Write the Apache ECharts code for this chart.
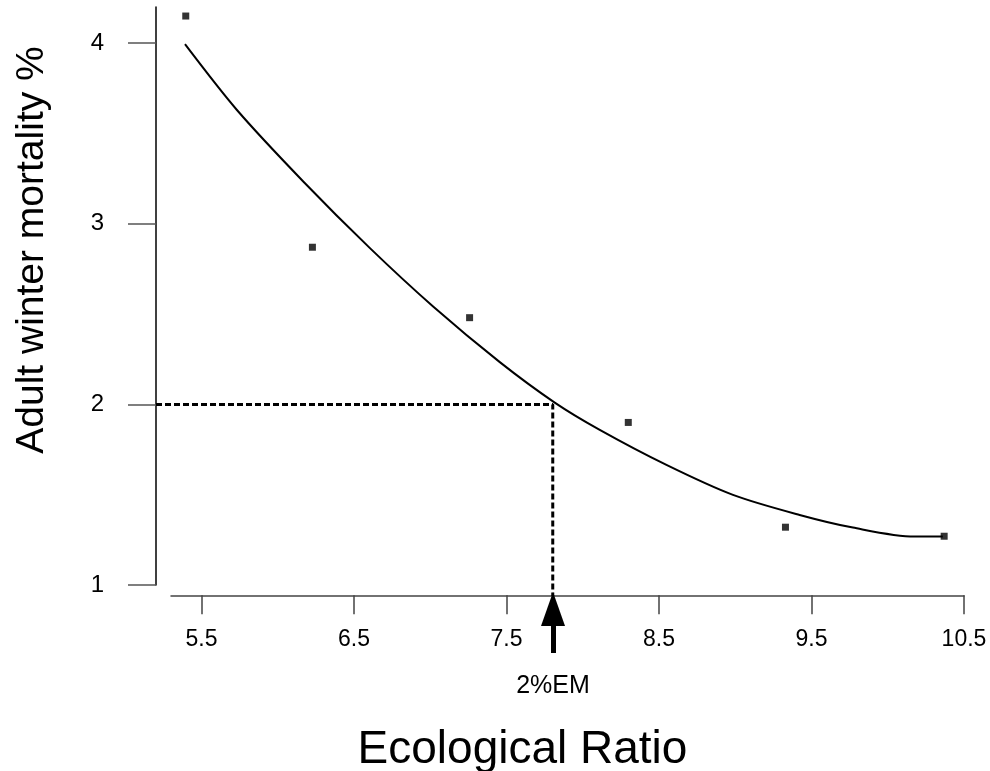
<!DOCTYPE html>
<html>
<head>
<meta charset="utf-8">
<script src="https://cdn.jsdelivr.net/npm/echarts@6/dist/echarts.min.js"></script>
<style>
	html, body { margin: 0; padding: 0; background: #fff; }
	#main { width: 990px; height: 771px; }
</style>
</head>
<body>
<div id="main"></div>
<script>
// observed points
const obsX = [5.40, 6.23, 7.26, 8.30, 9.33, 10.37];
const obsY = [4.15, 2.87, 2.48, 1.90, 1.32, 1.27];
// fitted curve
const fitX = [5.395, 5.734, 6.170, 6.607, 7.021, 7.458, 7.818, 8.113, 8.550, 8.986, 9.423, 9.772, 10.176, 10.361];
const fitY = [3.994, 3.631, 3.234, 2.865, 2.542, 2.234, 2.010, 1.859, 1.665, 1.499, 1.388, 1.318, 1.268, 1.268];
const emX = 7.805;
const emY = 2;
const emLabel = '2%EM';
// axes
const xTicks = [5.5, 6.5, 7.5, 8.5, 9.5, 10.5];
const yTicks = [1, 2, 3, 4];
const xName = 'Ecological Ratio';
const yName = 'Adult winter mortality %';

const font = '"Liberation Sans", Arial, sans-serif';

const chart = echarts.init(document.getElementById('main'), null, { renderer: 'canvas' });

const pts = obsX.map((x, i) => [x, obsY[i]]);
const fit = fitX.map((x, i) => [x, fitY[i]]);

chart.setOption({
	animation: false,
	backgroundColor: '#fff',
	grid: [
		// plot area
		{ left: 156, right: 26, top: 7, bottom: 186 },
		// x axis sits a bit below, R style
		{ left: 171, right: 26, top: 595, height: 1 },
		// strip under the axis for the arrow (0 = bottom, 1 = axis)
		{ left: 171, right: 26, top: 592, height: 108 }
	],
	xAxis: [
		{
			gridIndex: 0,
			type: 'value',
			min: 5.205,
			max: 10.5,
			show: false
		},
		{
			gridIndex: 1,
			type: 'value',
			min: 5.3,
			max: 10.5,
			position: 'bottom',
			axisLine: { show: true, lineStyle: { color: '#444', width: 1.5 } },
			axisTick: { show: true, length: 19, customValues: xTicks, lineStyle: { color: '#444', width: 1.5 } },
			axisLabel: {
				customValues: xTicks,
				margin: 33,
				fontSize: 23,
				color: '#000',
				fontFamily: font,
				formatter: v => v.toFixed(1)
			},
			splitLine: { show: false },
			name: xName,
			nameLocation: 'middle',
			nameGap: 132,
			nameTextStyle: { fontSize: 46, color: '#000', fontFamily: font, padding: [0, 90, 0, 0] }
		},
		{
			gridIndex: 2,
			type: 'value',
			min: 5.3,
			max: 10.5,
			show: false
		}
	],
	yAxis: [
		{
			gridIndex: 0,
			type: 'value',
			min: 1,
			max: 4.2,
			axisLine: { show: true, lineStyle: { color: '#000', width: 1.5 } },
			axisTick: { show: true, length: 28, customValues: yTicks, lineStyle: { color: '#555', width: 1.5 } },
			axisLabel: {
				customValues: yTicks,
				margin: 52,
				fontSize: 24,
				color: '#000',
				fontFamily: font
			},
			splitLine: { show: false },
			name: yName,
			nameLocation: 'middle',
			nameGap: 104,
			nameTextStyle: { fontSize: 39, color: '#000', fontFamily: font, padding: [0, 0, 0, 92] }
		},
		{
			gridIndex: 1,
			type: 'value',
			min: 0,
			max: 1,
			show: false
		},
		{
			gridIndex: 2,
			type: 'value',
			min: 0,
			max: 1,
			show: false
		}
	],
	series: [
		{
			// fitted curve
			type: 'line',
			data: fit,
			smooth: 0.3,
			showSymbol: false,
			lineStyle: { color: '#000', width: 2 },
			z: 3
		},
		{
			type: 'scatter',
			data: pts,
			symbol: 'rect',
			symbolSize: 7,
			itemStyle: { color: '#000' },
			z: 4
		},
		{
			// dashed guide lines to 2% mortality
			type: 'line',
			data: [[5.205, emY], [emX, emY], [emX, 0.939]],
			showSymbol: false,
			clip: false,
			lineStyle: { color: '#000', width: 3, type: [6, 3] },
			z: 2
		},
		{
			// arrow pointing at 2%EM on the axis
			type: 'line',
			xAxisIndex: 2,
			yAxisIndex: 2,
			data: [],
			markLine: {
				silent: true,
				symbol: ['none', 'triangle'],
				symbolSize: [24, 34],
				lineStyle: { color: '#000', width: 5, type: 'solid' },
				label: {
					show: true,
					position: 'start',
					distance: 21,
					formatter: emLabel,
					fontSize: 25,
					color: '#000',
					fontFamily: font
				},
				data: [[{ coord: [emX, 0.435] }, { coord: [emX, 0.843] }]]
			},
			z: 5
		}
	]
});
</script>
</body>
</html>
